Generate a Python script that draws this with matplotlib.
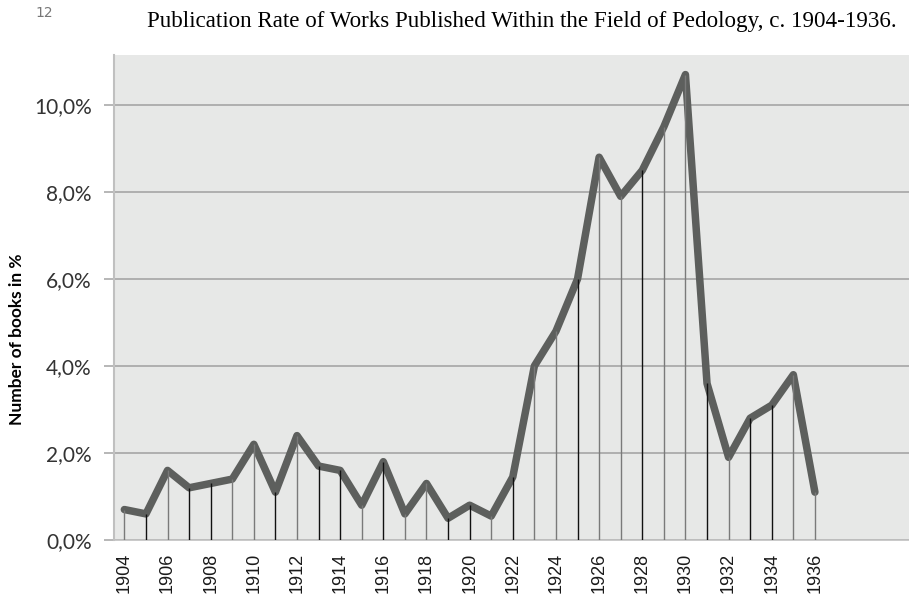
import matplotlib
matplotlib.use("Agg")
import matplotlib.pyplot as plt
from matplotlib.ticker import FuncFormatter

years = list(range(1904, 1937))
share = [0.7, 0.6, 1.6, 1.2, 1.3, 1.4, 2.2, 1.1, 2.4, 1.7,
         1.6, 0.8, 1.8, 0.6, 1.3, 0.5, 0.8, 0.55, 1.45, 4.0,
         4.8, 6.0, 8.8, 7.9, 8.5, 9.5, 10.7, 3.6, 1.9, 2.8,
         3.1, 3.8, 1.1]
# drop lines come out darker for some years in the original
dark_years = [1905, 1907, 1908, 1911, 1913, 1914, 1916, 1919, 1920,
              1922, 1925, 1928, 1931, 1933, 1934]
yticks = [0, 2, 4, 6, 8, 10]
xticks = list(range(1904, 1937, 2))

fig = plt.figure(figsize=(9.09, 5.96), dpi=100)
ax = fig.add_axes([114 / 909, 56 / 596, (909 - 114) / 909, (540 - 55) / 596])
ax.set_facecolor('#e7e8e7')

ax.plot(years, share, color='#5d5f5d', lw=5.4, solid_capstyle='round',
        solid_joinstyle='round', zorder=3)
vcols = ['#111111' if y in dark_years else '#7a7a7a' for y in years]
ax.vlines(years, 0, share, colors=vcols, lw=1.0, zorder=4)

ax.set_xlim(1903.52, 1940.36)
ax.set_ylim(0, 11.15)
ax.set_yticks(yticks)
ax.yaxis.set_major_formatter(FuncFormatter(lambda v, p: f'{v:.1f}%'.replace('.', ',')))
ax.set_xticks(xticks)
ax.set_xticklabels([str(x) for x in xticks], rotation=90, family='Liberation Sans',
                   fontsize=13, color='#1a1a1a')
for lab in ax.get_yticklabels():
    lab.set_family('Lato')
    lab.set_fontsize(15)
    lab.set_color('#333333')

ax.grid(axis='y', color='#a5a5a5', lw=1.2, zorder=1)
ax.tick_params(axis='y', length=7, width=1.2, color='#aaaaaa', pad=9)
ax.tick_params(axis='x', length=0, pad=9)
for s in ['top', 'right']:
    ax.spines[s].set_visible(False)
ax.spines['left'].set_color('#c0c0c0')
ax.spines['left'].set_linewidth(1.5)
ax.spines['bottom'].set_color('#c0c0c0')
ax.spines['bottom'].set_linewidth(1.2)

fig.text(17 / 909, 1 - 339 / 596, 'Number of books in %', rotation=90,
         ha='center', va='center', family='Lato', fontweight='bold', fontsize=12.5)
fig.text(147 / 909, 1 - 22 / 596,
         'Publication Rate of Works Published Within the Field of Pedology, c. 1904-1936.',
         ha='left', va='center', family='Liberation Serif', fontsize=16.6)
fig.text(44 / 909, 1 - 13 / 596, '12', ha='center', va='center',
         family='DejaVu Sans', fontsize=10, color='#777777')

fig.savefig('out.png', dpi=100)
